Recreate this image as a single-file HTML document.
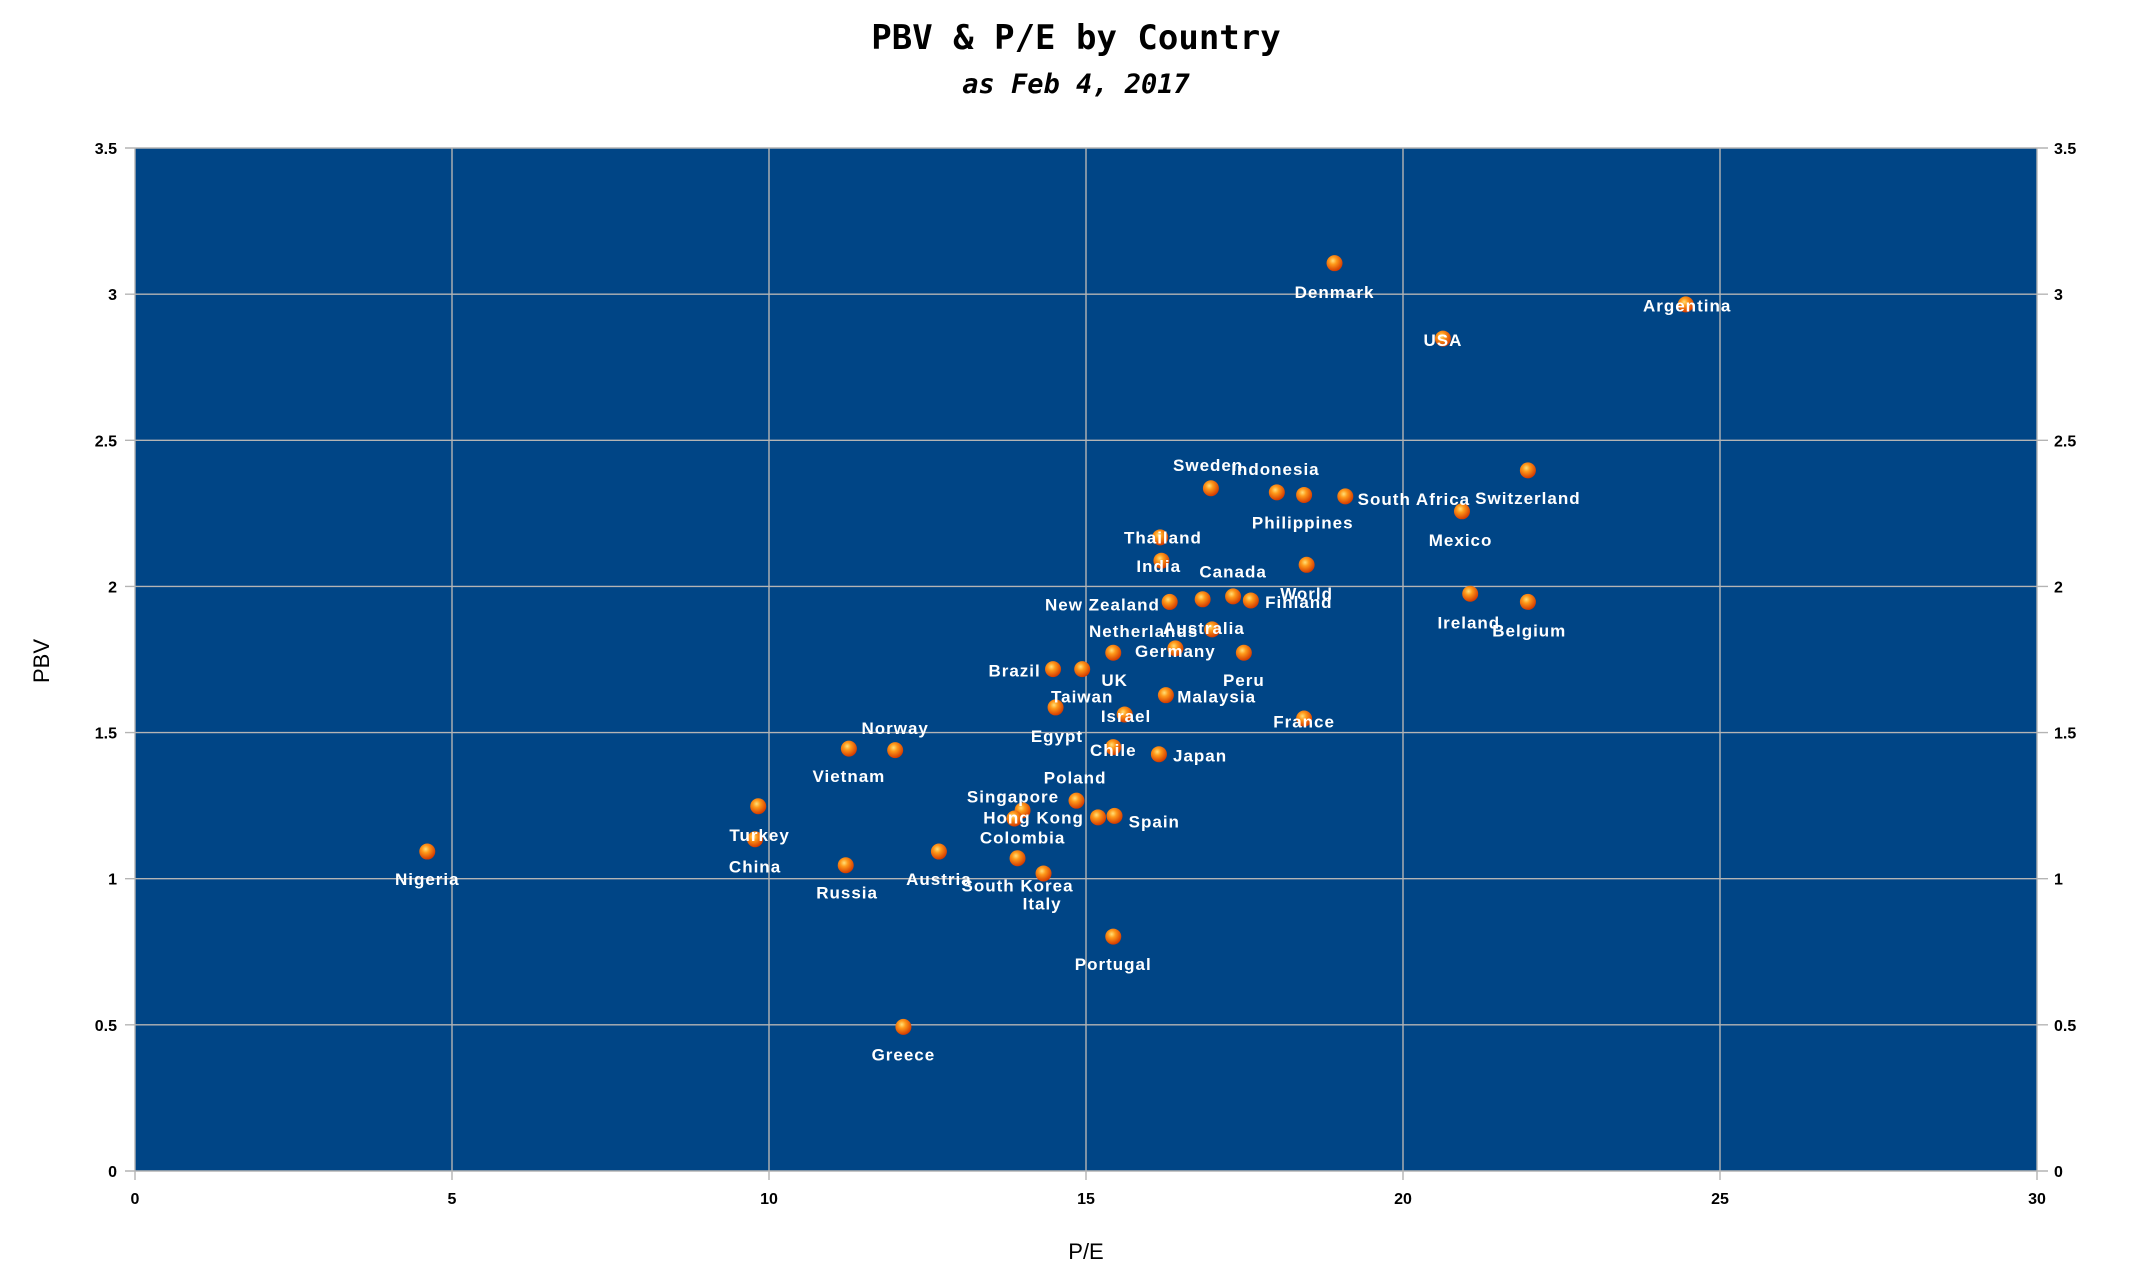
<!DOCTYPE html>
<html><head><meta charset="utf-8"><style>
html,body{margin:0;padding:0;background:#fff;}
svg{display:block;}
</style></head><body>
<svg id="chart" width="2153" height="1271" xmlns="http://www.w3.org/2000/svg">
<defs>
<radialGradient id="ball" cx="0.4" cy="0.35" r="0.65">
<stop offset="0" stop-color="#ffe07a"/><stop offset="0.35" stop-color="#ff9a1a"/><stop offset="1" stop-color="#d43a00"/>
</radialGradient>
</defs>
<text x="1076" y="49" text-anchor="middle" font-family="'DejaVu Sans Mono','Liberation Mono',monospace" font-weight="bold" font-size="34" fill="#000">PBV &amp; P/E by Country</text>
<text x="1076" y="93" text-anchor="middle" font-family="'DejaVu Sans Mono','Liberation Mono',monospace" font-weight="bold" font-style="italic" font-size="27" fill="#000">as Feb 4, 2017</text>
<rect x="135" y="148" width="1902" height="1023" fill="#004586"/>
<g id="grid"></g>
<g id="points"></g>
<g id="labels"></g>
<text transform="translate(49,661) rotate(-90)" text-anchor="middle" font-family="'Liberation Sans',sans-serif" font-size="22" fill="#000">PBV</text>
<text x="1086" y="1259" text-anchor="middle" font-family="'Liberation Sans',sans-serif" font-size="22" fill="#000">P/E</text>
</svg>
<script>
const countries=["Denmark","Argentina","USA","Switzerland","Sweden","Indonesia","Philippines","South Africa","Mexico","Thailand","India","World","Canada","New Zealand","Finland","Netherlands","Australia","Germany","UK","Peru","Brazil","Taiwan","Egypt","Israel","Malaysia","France","Chile","Japan","Norway","Vietnam","Poland","Singapore","Colombia","Hong Kong","Spain","South Korea","Italy","Austria","Turkey","China","Russia","Nigeria","Portugal","Greece","Ireland","Belgium"];
const peValues=[18.92,24.46,20.63,21.97,16.97,18.01,18.44,19.09,20.93,16.17,16.19,18.48,17.32,16.32,17.60,16.84,16.99,16.41,15.43,17.49,14.48,14.94,14.52,15.61,16.26,18.44,15.43,16.15,11.99,11.26,14.85,14.00,13.87,15.19,15.45,13.92,14.33,12.68,9.83,9.78,11.21,4.61,15.43,12.12,21.06,21.97];
const pbvValues=[3.106,2.965,2.848,2.397,2.336,2.322,2.313,2.308,2.257,2.168,2.088,2.074,1.966,1.947,1.952,1.956,1.853,1.788,1.773,1.773,1.717,1.717,1.586,1.562,1.628,1.548,1.450,1.426,1.440,1.445,1.267,1.234,1.206,1.210,1.215,1.070,1.018,1.093,1.248,1.135,1.046,1.093,0.802,0.493,1.975,1.947];
const xTicks=[0,5,10,15,20,25,30];
const yTicks=[0,0.5,1,1.5,2,2.5,3,3.5];
// label placement offsets (layout, not data)
const labelOffsets=[[0,21],[1,1],[0,1],[0,20],[-2,-17],[-1,-17],[-1,20],[50,2],[-1,21],[2,0],[-2,4],[0,21],[0,-18],[-49,2],[35,1],[-43,23],[-6,-1],[0,2],[1,20],[0,20],[-28,1],[0,20],[1,21],[1,1],[37,1],[0,2],[0,2],[30,1],[0,-16],[0,20],[-1,-17],[-7,-10],[6,14],[-47,0],[29,4],[0,20],[-1,22],[0,20],[1,21],[0,20],[1,20],[0,20],[0,20],[0,20],[-1,21],[1,21]];

const NS="http://www.w3.org/2000/svg";
const L=135,R=2037,T=148,B=1171,XMAX=30,YMAX=3.5;
const xs=v=>L+(R-L)*v/XMAX;
const ys=v=>B-(B-T)*v/YMAX;
const grid=document.getElementById('grid'),pts=document.getElementById('points'),lbls=document.getElementById('labels');
function mk(tag,attrs,parent){const e=document.createElementNS(NS,tag);for(const k in attrs)e.setAttribute(k,attrs[k]);parent.appendChild(e);return e;}
xTicks.forEach(t=>{
  const x=xs(t);
  const ln=mk('line',{x1:x,x2:x,y1:T,y2:B+9,stroke:'#b4b4b4','stroke-width':1.4},grid);
  
  
  const tx=mk('text',{x:x,y:B+33,'text-anchor':'middle','font-family':"'Liberation Sans',sans-serif",'font-weight':'bold','font-size':16,fill:'#000'},grid);
  tx.textContent=t;
  
  
});
yTicks.forEach(t=>{
  const y=ys(t);
  const ln=mk('line',{x1:L-10,x2:R+11,y1:y,y2:y,stroke:'#b4b4b4','stroke-width':1.4},grid);
  
  
  const tl=mk('text',{x:L-18,y:y+6,'text-anchor':'end','font-family':"'Liberation Sans',sans-serif",'font-weight':'bold','font-size':16,fill:'#000'},grid);
  tl.textContent=t;
  
  
  const tr=mk('text',{x:R+17,y:y+6,'text-anchor':'start','font-family':"'Liberation Sans',sans-serif",'font-weight':'bold','font-size':16,fill:'#000'},grid);
  tr.textContent=t;
  
  
});
const S=1.372;
countries.forEach((c,i)=>{
  const x=xs(peValues[i]),y=ys(pbvValues[i]);
  const p=mk('circle',{cx:x,cy:y,r:8,fill:'url(#ball)'},pts);
  
  
  const o=labelOffsets[i];
  const t=mk('text',{x:x+o[0]*S,y:y+o[1]*S+6,'text-anchor':'middle','font-family':"'Liberation Sans',sans-serif",'font-weight':'bold','font-size':17,'letter-spacing':'1',fill:'#fff'},lbls);
  t.textContent=c;
  
  
});
</script>
</body></html>
